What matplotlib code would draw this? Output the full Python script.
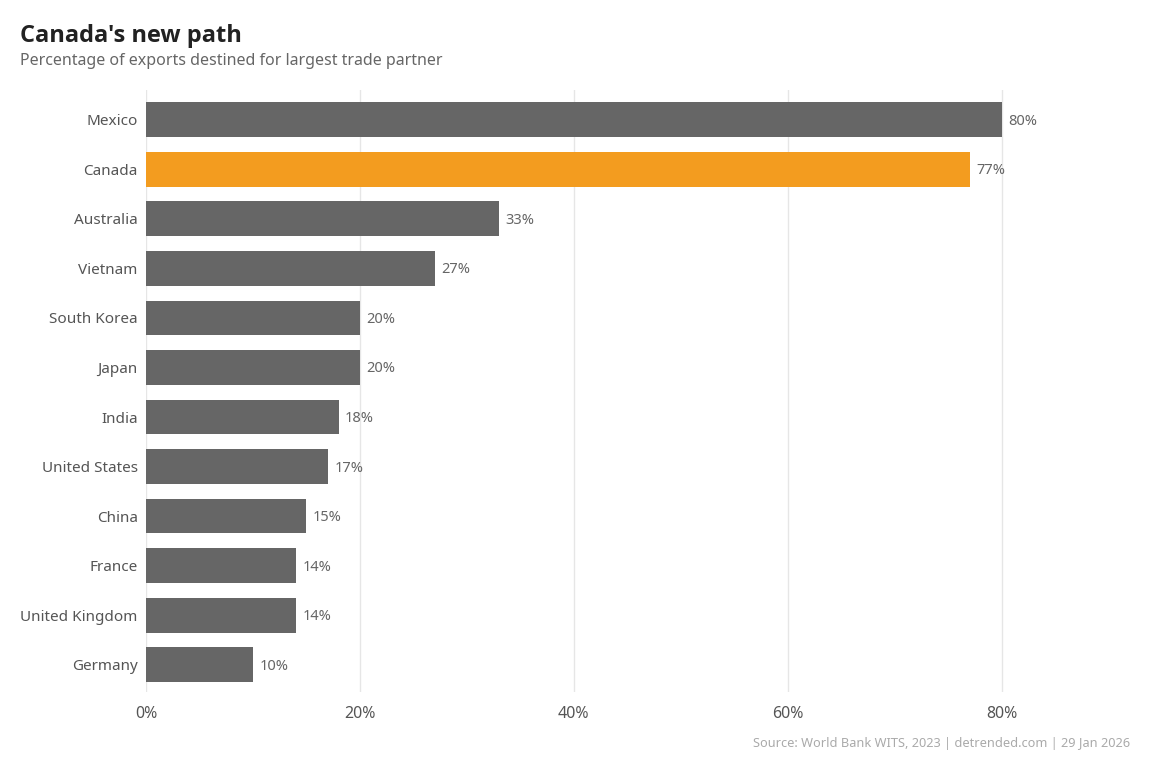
import matplotlib
matplotlib.use("Agg")
import matplotlib.pyplot as plt

plt.rcParams['font.family'] = ['Noto Sans', 'DejaVu Sans']

countries = ["Mexico", "Canada", "Australia", "Vietnam", "South Korea", "Japan",
             "India", "United States", "China", "France", "United Kingdom", "Germany"]
shares = [80, 77, 33, 27, 20, 20, 18, 17, 15, 14, 14, 10]
highlight = "Canada"
xticks = [0, 20, 40, 60, 80]

gray = "#666666"
orange = "#F39C1F"

fig = plt.figure(figsize=(11.56, 7.70), dpi=100)
# axes in figure pixels: left 146, right ~1130, top 90, bottom 692
ax = fig.add_axes([146/1156, 1 - 692/770, (1130-146)/1156, (692-90)/770])

ypos = list(range(len(countries)))
colors = [orange if c == highlight else gray for c in countries]
ax.barh(ypos, shares, height=0.7, color=colors, zorder=2)

for y, v in zip(ypos, shares):
    ax.text(v + 0.6, y + 0.03, f"{v}%", va="center", ha="left", fontsize=10.5, color="#666666")

ax.set_yticks(ypos)
ax.set_yticklabels(countries)
ax.set_ylim(len(countries) - 1 + 0.55, -0.6)
ax.set_xlim(0, 92)
ax.set_xticks(xticks)
ax.set_xticklabels([f"{t}%" for t in xticks])
ax.grid(axis="x", color="#e6e6e6", linewidth=1, zorder=0)
ax.grid(axis="y", visible=False)
for s in ax.spines.values():
    s.set_visible(False)
ax.tick_params(axis="both", length=0, colors="#555555", labelsize=11)
ax.tick_params(axis="y", pad=6)
ax.tick_params(axis="x", pad=10, labelsize=11.5)
for lab in ax.get_yticklabels():
    lab.set_y(lab.get_position()[1])

fig.text(20/1156, 1 - 36/770, "Canada's new path", fontsize=17, fontweight="bold",
         family=["Open Sans", "DejaVu Sans"], color="#222222", va="center", ha="left")
fig.text(20/1156, 1 - 61/770, "Percentage of exports destined for largest trade partner",
         fontsize=11.5, color="#666666", va="center", ha="left")
fig.text(1130/1156, 1 - 743/770, "Source: World Bank WITS, 2023 | detrended.com | 29 Jan 2026",
         fontsize=9.2, color="#aaaaaa", va="center", ha="right")

fig.savefig("out.png", dpi=100, facecolor="white")
